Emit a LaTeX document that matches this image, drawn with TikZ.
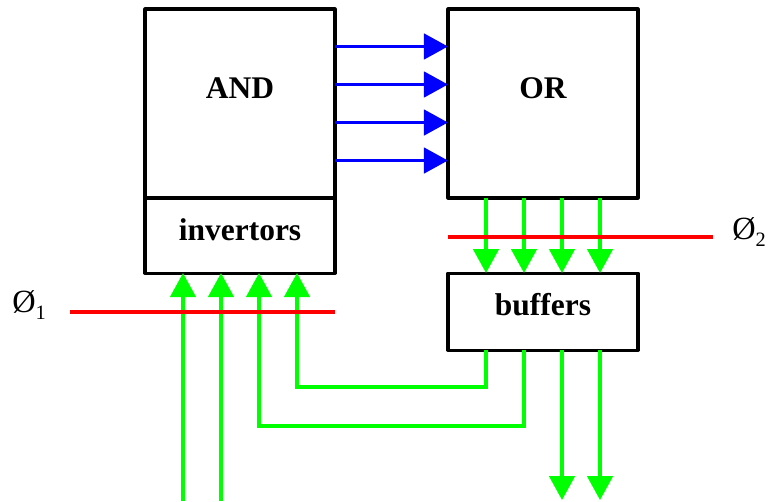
\documentclass[tikz,border=0pt]{standalone}
\usepackage{fontspec}
\setmainfont{Liberation Serif}
\usetikzlibrary{arrows.meta,positioning}
\newcommand{\phsub}[1]{\raisebox{-0.18cm}{\fontsize{14.5}{15}\selectfont #1}}

\begin{document}
\begin{tikzpicture}[x=0.025cm, y=-0.025cm, node distance=0pt, >={Triangle[length=0.6cm,width=0.63cm]}]
\tikzstyle{blk}=[draw, line width=2.2pt, line join=round, outer sep=0pt, minimum width=4.75cm, font=\fontsize{22.4}{26}\selectfont\bfseries]
\tikzstyle{bus}=[line width=2.8pt]
\tikzstyle{clk}=[red, line width=2.8pt]
\tikzstyle{phase}=[inner sep=0pt, anchor=base west, font=\fontsize{23}{26}\selectfont]
\useasboundingbox (0,0) rectangle (774,501);
% blocks
\node[blk, minimum height=4.725cm, text depth=0.75cm] (and) at (240,103.5) {AND};
\node[blk, minimum height=1.875cm, text depth=0.3cm, below=of and] (inv) {invertors};
\node[blk, minimum height=4.725cm, text depth=0.75cm] (or) at (543,103.5) {OR};
\node[blk, minimum height=1.925cm, text depth=0.35cm, below=1.875cm of or] (buf) {buffers};
% AND plane to OR plane
\foreach \k in {-1.5,-0.5,0.5,1.5}
  \draw[->, bus, blue] ([yshift=\k*0.95cm]and.east) -- ([yshift=\k*0.95cm]or.west);
% OR plane to buffers
\foreach \k in {-1.5,-0.5,0.5,1.5}
  \draw[->, bus, green] ([xshift=\k*0.95cm]or.south) -- ([xshift=\k*0.95cm]buf.north);
% inputs
\coordinate (in1) at (183,501);
\coordinate (in2) at (221,501);
\draw[->, bus, green] (in1) -- (in1 |- inv.south);
\draw[->, bus, green] (in2) -- (in2 |- inv.south);
% feedback from buffers
\draw[->, bus, green] ([xshift=-1.425cm]buf.south) -- ++(0,37) -| ([xshift=1.425cm]inv.south);
\draw[->, bus, green] ([xshift=-0.475cm]buf.south) -- ++(0,76) -| ([xshift=0.475cm]inv.south);
% outputs
\draw[->, bus, green] ([xshift=0.475cm]buf.south) -- ++(0,150);
\draw[->, bus, green] ([xshift=1.425cm]buf.south) -- ++(0,150);
% clock phases
\coordinate (phi1a) at (70,312);
\coordinate (phi1b) at (335,312);
\coordinate (phi2a) at (448,237);
\coordinate (phi2b) at (713,237);
\draw[clk] (phi1a) -- (phi1b);
\draw[clk] (phi2a) -- (phi2b);
\node[phase] (lbl1) at (12,312) {Ø\phsub{1}};
\node[phase] (lbl2) at (732,239) {Ø\phsub{2}};
\end{tikzpicture}
\end{document}
